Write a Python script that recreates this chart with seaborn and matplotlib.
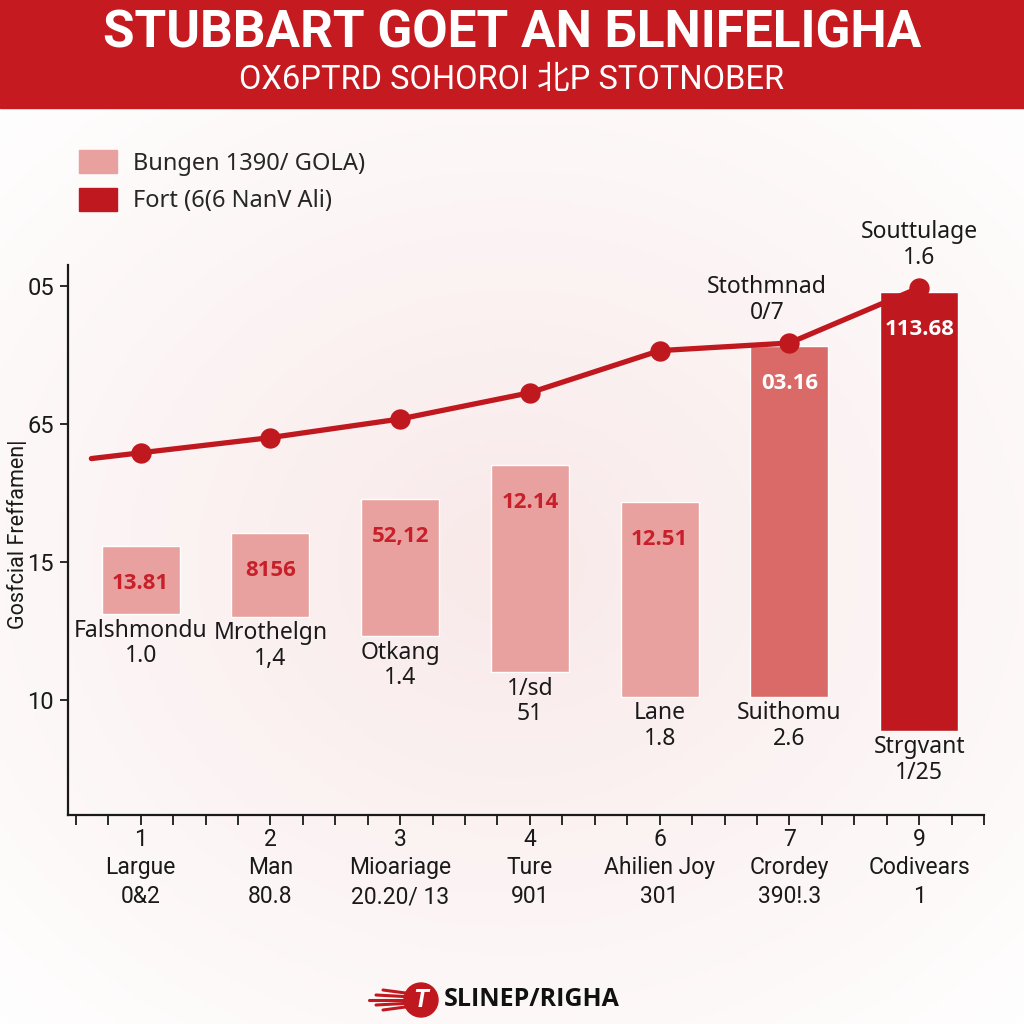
import numpy as np
import matplotlib
matplotlib.use("Agg")
import matplotlib.pyplot as plt
from matplotlib.patches import Patch, Rectangle, Circle
from matplotlib.colors import LinearSegmentedColormap
import seaborn as sns

# data
tick_nums = ["1", "2", "3", "4", "6", "7", "9"]
tick_names = ["Largue", "Man", "Mioariage", "Ture", "Ahilien Joy", "Crordey", "Codivears"]
tick_vals = ["0&2", "80.8", "20.20/ 13", "901", "301", "390!.3", "1"]

bar_bottom = [6.2, 6.0, 4.6, 2.0, 0.2, 0.2, -2.25]
bar_top = [11.15, 12.1, 14.55, 17.0, 14.35, 25.65, 29.55]
bar_values = ["13.81", "8156", "52,12", "12.14", "12.51", "03.16", "113.68"]
bar_names = ["Falshmondu\n1.0", "Mrothelgn\n1,4", "Otkang\n1.4", "1/sd\n51",
             "Lane\n1.8", "Suithomu\n2.6", "Strgvant\n1/25"]
bar_group = ["light", "light", "light", "light", "light", "mid", "dark"]

trend = [17.9, 19.0, 20.35, 22.25, 25.3, 25.85, 29.85]
trend_labels = {5: "Stothmnad\n0/7", 6: "Souttulage\n1.6"}

y_ticks = [0, 10, 20, 30]
y_ticklabels = ["10", "15", "65", "05"]

legend_labels = ["Bungen 1390/ GOLA)", "Fort (6(6 NanV Ali)"]

title = "STUBBART GOET AN БLNIFELIGHA"
subtitle = "OX6PTRD SOHOROI 北P STOTNOBER"
footer = "SLINEP/RIGHA"

RED = "#C0181F"
colors = {"light": "#E8A19F", "mid": "#D96A68", "dark": RED}

sns.set_theme(style="white")
plt.rcParams["font.family"] = ["Noto Sans", "DejaVu Sans"]
NARROW = ["Roboto", "DejaVu Sans"]
BOLD = ["Open Sans", "Noto Sans", "DejaVu Sans"]

fig = plt.figure(figsize=(10.24, 10.24), dpi=100)

# faint radial background
bg = fig.add_axes([0, 0, 1, 1], zorder=-10)
yy, xx = np.mgrid[0:1:300j, 0:1:300j]
r = np.sqrt(((xx - 0.5) / 0.75) ** 2 + ((yy - 0.55) / 0.65) ** 2)
bg.imshow(np.clip(r, 0, 1), cmap=LinearSegmentedColormap.from_list("bg", ["#F9E9E9", "#FFFFFF"]),
          extent=[0, 1, 0, 1], aspect="auto", origin="upper")
bg.set_axis_off()

# title band
fig.patches.append(Rectangle((0, 1 - 108 / 1024), 1, 108 / 1024, transform=fig.transFigure,
                             color="#C41A20", zorder=0))
fig.text(0.5, 1 - 33 / 1024, title, ha="center", va="center", color="white",
         fontsize=37, fontweight="bold", family=NARROW)
fig.text(0.5, 1 - 80 / 1024, subtitle, ha="center", va="center", color="white",
         fontsize=23.5, family=NARROW + ["Noto Sans CJK SC"])

ax = fig.add_axes([68 / 1024, 1 - 815 / 1024, 916 / 1024, 550 / 1024])
ax.patch.set_alpha(0)

x = np.arange(len(bar_top))
heights = np.array(bar_top) - np.array(bar_bottom)
ax.bar(x, heights, bottom=bar_bottom, width=0.6,
       color=[colors[g] for g in bar_group], zorder=2)

# trend line, with a short lead-in before the first point
lead = 0.38
lead_y = trend[0] - lead * (trend[1] - trend[0])
sns.lineplot(x=np.r_[-lead, x], y=np.r_[lead_y, trend], ax=ax, color=RED,
             linewidth=3.8, sort=False, zorder=3)
sns.scatterplot(x=x, y=trend, ax=ax, color=RED, s=215, linewidth=0, zorder=4)

for i in x:
    inner = "white" if bar_group[i] != "light" else "#C8202A"
    ax.annotate(bar_values[i], xy=(i, bar_top[i]), xytext=(0, -27), textcoords="offset points",
                ha="center", va="center", color=inner, fontsize=16, fontweight="bold",
                family=BOLD, zorder=5)
    ax.annotate(bar_names[i], xy=(i, bar_bottom[i]), xytext=(0, -3), textcoords="offset points",
                ha="center", va="top", color="#1A1A1A", fontsize=16.5, linespacing=1.1, zorder=5)

offsets = {5: (-16, 13), 6: (0, 13)}
for i, lab in trend_labels.items():
    ax.annotate(lab, xy=(i, trend[i]), xytext=offsets[i], textcoords="offset points",
                ha="center", va="bottom", color="#1A1A1A", fontsize=16.5, linespacing=1.1,
                zorder=6)

ax.set_xlim(-0.56, 6.5)
ax.set_ylim(-8.33, 31.5)
for s in ["top", "right"]:
    ax.spines[s].set_visible(False)
for s in ["left", "bottom"]:
    ax.spines[s].set_color("#1A1A1A")
    ax.spines[s].set_linewidth(1.6)

ax.set_yticks(y_ticks)
ax.set_yticklabels(y_ticklabels, family=NARROW, fontsize=17, color="#1A1A1A")
ax.set_xticks(x)
ax.set_xticklabels([f"{a}\n{b}\n{c}" for a, b, c in zip(tick_nums, tick_names, tick_vals)],
                   family=NARROW, fontsize=16.5, color="#1A1A1A", linespacing=1.32)
minor = [m for m in np.arange(-0.5, 6.51, 0.25) if abs(m - round(m)) > 1e-6]
ax.set_xticks(minor, minor=True)
ax.tick_params(axis="x", which="both", direction="out", length=7, width=1.3,
               color="#1A1A1A", bottom=True, pad=2)
ax.tick_params(axis="y", direction="out", length=6, width=1.3, color="#1A1A1A", left=True, pad=4)

ax.set_ylabel("Gosfcial Freffamen|", family=NARROW, fontsize=15.5, color="#1A1A1A")
ax.yaxis.set_label_coords(-0.043, 0.51)

handles = [Patch(color=colors["light"]), Patch(color=colors["dark"])]
fig.legend(handles, legend_labels, loc="upper left", bbox_to_anchor=(79 / 1024, 1 - 150 / 1024),
           frameon=False, fontsize=17, handlelength=1.6, handleheight=1.15,
           handletextpad=0.7, labelspacing=0.5, borderpad=0, borderaxespad=0)

# footer logo
lx, ly = 421 / 1024, 1 - 1000 / 1024
for k, dy in enumerate([-10, -5, 0, 5, 10]):
    fig.lines.append(plt.Line2D([lx - (52 - 7 * abs(k - 2)) / 1024, lx - 8 / 1024],
                                [ly + dy / 1024, ly + dy / 1024 * 0.6],
                                transform=fig.transFigure, color=RED, lw=2.2))
fig.patches.append(Circle((lx, ly), 17 / 1024, transform=fig.transFigure, color=RED))
fig.text(lx, ly, "T", ha="center", va="center", color="white", fontsize=18,
         fontweight="bold", style="italic", family=NARROW)
fig.text(444 / 1024, ly, footer, ha="left", va="center", color="#111111",
         fontsize=18, fontweight="bold", family=BOLD)

fig.savefig("out.png", dpi=100)
